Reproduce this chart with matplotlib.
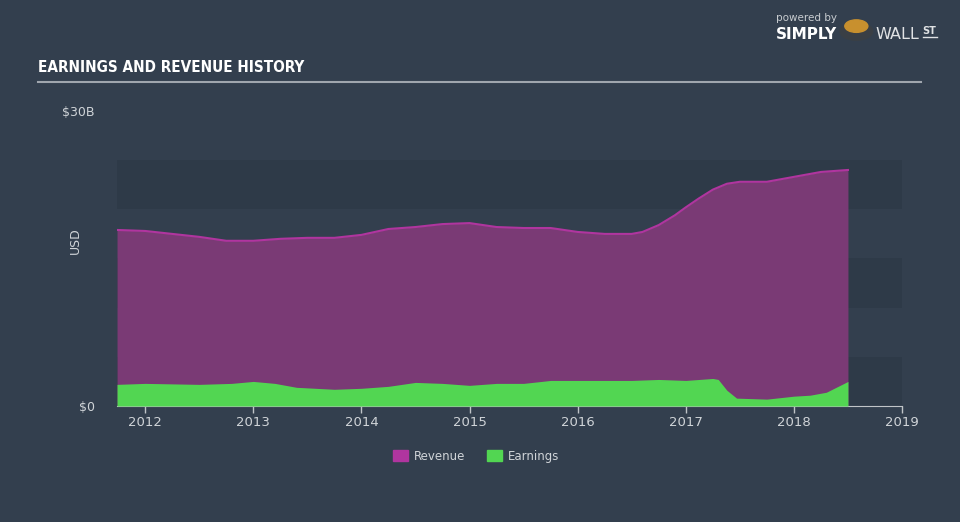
import numpy as np
import matplotlib
matplotlib.use("Agg")
import matplotlib.pyplot as plt
from matplotlib.patches import Circle

# data (billions USD)
years = [2011.74, 2012.0, 2012.25, 2012.5, 2012.75, 2013.0, 2013.25, 2013.5, 2013.75,
         2014.0, 2014.25, 2014.5, 2014.75, 2015.0, 2015.25, 2015.5, 2015.75,
         2016.0, 2016.25, 2016.5, 2016.6, 2016.75, 2016.9, 2017.0, 2017.12, 2017.25,
         2017.38, 2017.5, 2017.75, 2018.0, 2018.25, 2018.5]
revenue = [17.9, 17.8, 17.5, 17.2, 16.8, 16.8, 17.0, 17.1, 17.1,
           17.4, 18.0, 18.2, 18.5, 18.6, 18.2, 18.1, 18.1,
           17.7, 17.5, 17.5, 17.7, 18.4, 19.4, 20.2, 21.1, 22.0,
           22.6, 22.8, 22.8, 23.3, 23.8, 24.0]
earn_years = [2011.74, 2012.0, 2012.5, 2012.8, 2013.0, 2013.2, 2013.4, 2013.75, 2014.0,
              2014.25, 2014.5, 2014.75, 2015.0, 2015.25, 2015.5, 2015.75, 2016.0,
              2016.25, 2016.5, 2016.75, 2017.0, 2017.25, 2017.3, 2017.38, 2017.47, 2017.75,
              2018.0, 2018.15, 2018.3, 2018.5]
earnings = [2.2, 2.3, 2.2, 2.3, 2.5, 2.3, 1.9, 1.7, 1.8,
            2.0, 2.4, 2.3, 2.1, 2.3, 2.3, 2.6, 2.6,
            2.6, 2.6, 2.7, 2.6, 2.8, 2.7, 1.6, 0.8, 0.7,
            1.0, 1.1, 1.4, 2.5]
year_ticks = list(range(2012, 2020))

BG = "#333f4e"
BAND = "#2e3a48"

fig = plt.figure(figsize=(9.6, 5.22), dpi=100, facecolor=BG)
ax = fig.add_axes([0.1219, 0.2222, 0.8177, 0.5652])
ax.set_facecolor(BG)

# alternating horizontal bands
for i, lo in enumerate(range(0, 25, 5)):
    if i % 2 == 0:
        ax.axhspan(lo, lo + 5, color=BAND, zorder=0, lw=0)

ax.fill_between(years, revenue, color="#7a3a75", zorder=2, lw=0)
ax.plot(years, revenue, color="#b0359f", lw=1.5, zorder=3)
ax.fill_between(earn_years, earnings, color="#52d652", zorder=4, lw=0)

ax.set_xlim(2011.74, 2019.0)
ax.set_ylim(0, 30)
ax.set_yticks([0, 30])
ax.set_yticklabels(["$0", "$30B"])
ax.set_xticks(year_ticks)
ax.set_xticklabels([str(y) for y in year_ticks])

for s in ["top", "right", "left"]:
    ax.spines[s].set_visible(False)
ax.spines["bottom"].set_color("#c0c4c8")
ax.tick_params(axis="x", colors="#c0c4c8", length=5, width=1, labelsize=9.5,
               labelcolor="#d0d4d8", pad=2)
ax.tick_params(axis="y", length=0, labelsize=9, labelcolor="#d0d4d8", pad=16)
ax.set_ylabel("USD", color="#d0d4d8", fontsize=9)
ax.yaxis.set_label_coords(-0.045, 0.56)

# title and rule
fig.text(0.040, 0.862, "EARNINGS AND REVENUE HISTORY", color="white",
         fontsize=11, fontweight="bold", fontstretch="condensed",
         family=["DejaVu Sans"])
fig.add_artist(plt.Line2D([0.040, 0.959], [0.843, 0.843], color="#a0a6ae", lw=1.5))

# legend
leg_items = [("Revenue", "#b0359f"), ("Earnings", "#52d652")]
handles = [plt.Rectangle((0, 0), 1, 1, color=c) for _, c in leg_items]
fig.legend(handles, [n for n, _ in leg_items], loc="center", bbox_to_anchor=(0.496, 0.126),
           ncol=2, frameon=False, fontsize=8.5, labelcolor="#d0d4d8",
           handlelength=1.3, handleheight=1.1, columnspacing=1.8, handletextpad=0.5)

# logo
fig.text(0.808, 0.960, "powered by", color="#c8ccd0", fontsize=7.5)
fig.text(0.808, 0.925, "SIMPLY", color="white", fontsize=11, fontweight="bold")
fig.text(0.912, 0.925, "WALL", color="#e0e2e4", fontsize=11.5)
fig.text(0.961, 0.935, "ST", color="#e0e2e4", fontsize=7, fontweight="bold")
fig.add_artist(plt.Line2D([0.961, 0.976], [0.930, 0.930], color="#e0e2e4", lw=1))
fig.add_artist(Circle((0.892, 0.940), 0.017, transform=fig.transFigure,
                      color="#3a3f45", zorder=5))
fig.add_artist(Circle((0.892, 0.950), 0.012, transform=fig.transFigure,
                      color="#c8902e", zorder=6))

fig.savefig("out.png", dpi=100, facecolor=BG)
